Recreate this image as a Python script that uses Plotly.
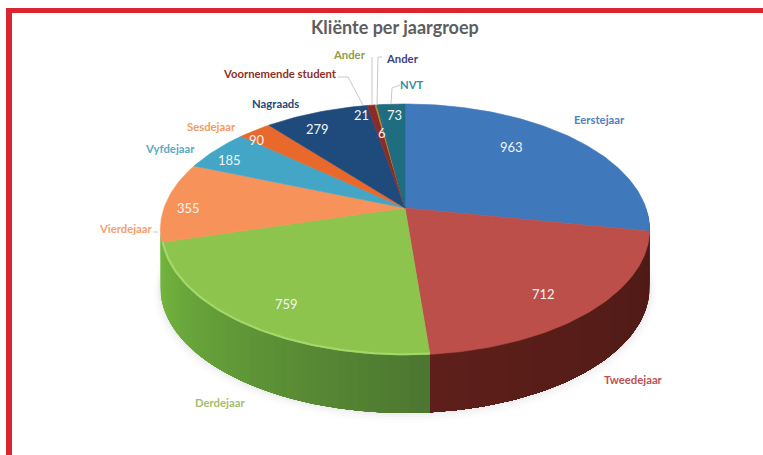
import math
import plotly.graph_objects as go

# ---- data ----
categories = ["Eerstejaar", "Tweedejaar", "Derdejaar", "Vierdejaar", "Vyfdejaar", "Sesdejaar",
              "Nagraads", "Voornemende student", "Ander", "Ander", "NVT"]
values = [963, 712, 759, 355, 185, 90, 279, 21, 6, 1, 73]
value_text = ["963", "712", "759", "355", "185", "90", "279", "21", "6", "", "73"]

# ---- style ----
top_colors = ["#3f79bb", "#bd4f4b", "#8cc44e", "#f7935a", "#44a6c6", "#e8692b",
              "#1f4a7c", "#8e2a26", "#8a9440", "#3a3a78", "#1f6d80"]
wall_start = ["#2b4f7a", "#4e1a16", "#4c7630"]
wall_end = ["#2b4f7a", "#5e1f1a", "#72b63e"]
label_colors = ["#4f81bd", "#c0504d", "#a6bd6a", "#f4a06e", "#5aa9c4", "#f59a5e",
                "#24477a", "#8e2f2b", "#8f9c4a", "#3f3f80", "#3b8ea3"]
label_pos = [(599, 119), (633, 379), (220, 402), (126, 228), (170, 148), (211, 126),
             (275, 103), (280, 73), (349, 54), (402, 58), (412, 84)]
value_pos = [(511, 147), (543, 294), (286, 304), (188, 208), (229, 160), (257, 140),
             (317, 129), (361, 115), (382, 133), None, (394, 115)]
leaders = [([338, 348, 363], [77, 77, 105]),
           ([372, 372], [57, 105]),
           ([382, 378, 377], [57, 57, 105]),
           ([400, 392, 391], [85, 88, 104]),
           ([153, 158], [232, 232])]

CX, CY, R, H, K, DEPTH = 405, 208, 241, 121.8, 0.171, 58


def project(theta_deg, dy=0.0, scale=1.0):
    t = math.radians(theta_deg)
    u, v = math.sin(t), math.cos(t)
    w = 1 + K * v
    return CX + scale * R * u / w, CY + dy - scale * H * v / w


def mix(c1, c2, f):
    a = [int(c1[i:i + 2], 16) for i in (1, 3, 5)]
    b = [int(c2[i:i + 2], 16) for i in (1, 3, 5)]
    return "#%02x%02x%02x" % tuple(round(p + (q - p) * f) for p, q in zip(a, b))


def steps(a, b, n_per_deg=1):
    n = max(2, int((b - a) * n_per_deg) + 1)
    return [a + (b - a) * i / (n - 1) for i in range(n)]


total = sum(values)
edges = [0.0]
for val in values:
    edges.append(edges[-1] + val / total * 360)

fig = go.Figure()

# soft shadow beneath the disc
for grow, alpha in [(7, 0.012), (5, 0.018), (3, 0.025), (1.5, 0.03)]:
    pts = [project(t, dy=DEPTH + grow * 0.8, scale=1 + grow / R) for t in steps(80, 280)]
    top = [project(t, dy=10) for t in steps(280, 80)]
    fig.add_trace(go.Scatter(x=[p[0] for p in pts + top], y=[p[1] for p in pts + top], mode="lines",
                             fill="toself", fillcolor=f"rgba(60,60,70,{alpha})", line=dict(width=0),
                             hoverinfo="skip", showlegend=False))

# side wall: drawn as overlapping bands, each reaching to the wall's far end, so no seams show
for i in range(3):
    a, b = edges[i], edges[i + 1]
    lo, hi = max(a, 90), b
    if i == 2:
        hi = b + 6  # the green wall runs round to the silhouette
    grid = steps(lo, hi, 0.5)
    seq = list(zip(grid[:-1], grid[1:]))
    if i == 2:
        seq = seq[::-1]  # left end is brightest, paint from the left
    for t0, t1 in seq:
        f = min(1.0, (0.5 * (t0 + t1) - a) / (b - a))
        col = mix(wall_start[i], wall_end[i], f)
        if i == 2:
            span = steps(a, t1, 1)
        else:
            span = steps(t0, hi, 1)
        pts = [project(t) for t in span] + [project(t, dy=DEPTH) for t in span[::-1]]
        fig.add_trace(go.Scatter(x=[p[0] for p in pts], y=[p[1] for p in pts], mode="lines", fill="toself",
                                 fillcolor=col, line=dict(width=0), hoverinfo="skip", showlegend=False))

# top face
for i, val in enumerate(values):
    arc = [project(t) for t in steps(edges[i], edges[i + 1])]
    pts = [(CX, CY)] + arc + [(CX, CY)]
    fig.add_trace(go.Scatter(x=[p[0] for p in pts], y=[p[1] for p in pts], mode="lines", fill="toself",
                             fillcolor=top_colors[i], line=dict(color=top_colors[i], width=0.6),
                             name=categories[i], text=f"{categories[i]}: {val}", hoverinfo="text",
                             showlegend=False))

# bevel highlight on the front rim of the green slice
rim = [project(t, scale=0.995) for t in steps(edges[2], edges[3])]
fig.add_trace(go.Scatter(x=[p[0] for p in rim], y=[p[1] for p in rim], mode="lines",
                         line=dict(color="#a4d86c", width=2), hoverinfo="skip", showlegend=False))

# leader lines
for xs, ys in leaders:
    fig.add_trace(go.Scatter(x=xs, y=ys, mode="lines", line=dict(color="#c9c9c9", width=1),
                             hoverinfo="skip", showlegend=False))

ann = []
for i, name in enumerate(categories):
    ann.append(dict(x=label_pos[i][0], y=label_pos[i][1], text=f"<b>{name}</b>", showarrow=False,
                    font=dict(family="Lato", size=11.3, color=label_colors[i]), xref="x", yref="y"))
    if value_pos[i]:
        ann.append(dict(x=value_pos[i][0], y=value_pos[i][1], text=value_text[i], showarrow=False,
                        font=dict(family="Lato", size=13, color="#f4f4f4"), xref="x", yref="y"))
ann.append(dict(x=395, y=27, text="<b>Kliënte per jaargroep</b>", showarrow=False,
                font=dict(family="Lato", size=18, color="#5e5e5e"), xref="x", yref="y"))

fig.update_layout(
    width=763, height=455, margin=dict(l=0, r=0, t=0, b=0),
    paper_bgcolor="white", plot_bgcolor="white", showlegend=False, annotations=ann,
    xaxis=dict(range=[0, 763], visible=False, fixedrange=True),
    yaxis=dict(range=[455, 0], visible=False, fixedrange=True),
    shapes=[
        dict(type="rect", xref="x", yref="y", x0=6, x1=763, y0=8, y1=13, fillcolor="#d8262f", line_width=0),
        dict(type="rect", xref="x", yref="y", x0=6, x1=12, y0=8, y1=455, fillcolor="#d8262f", line_width=0),
    ],
)
fig.write_html("out.html", post_script="document.body.style.margin='0';document.body.style.overflow='hidden';",
               config=dict(displayModeBar=False))
